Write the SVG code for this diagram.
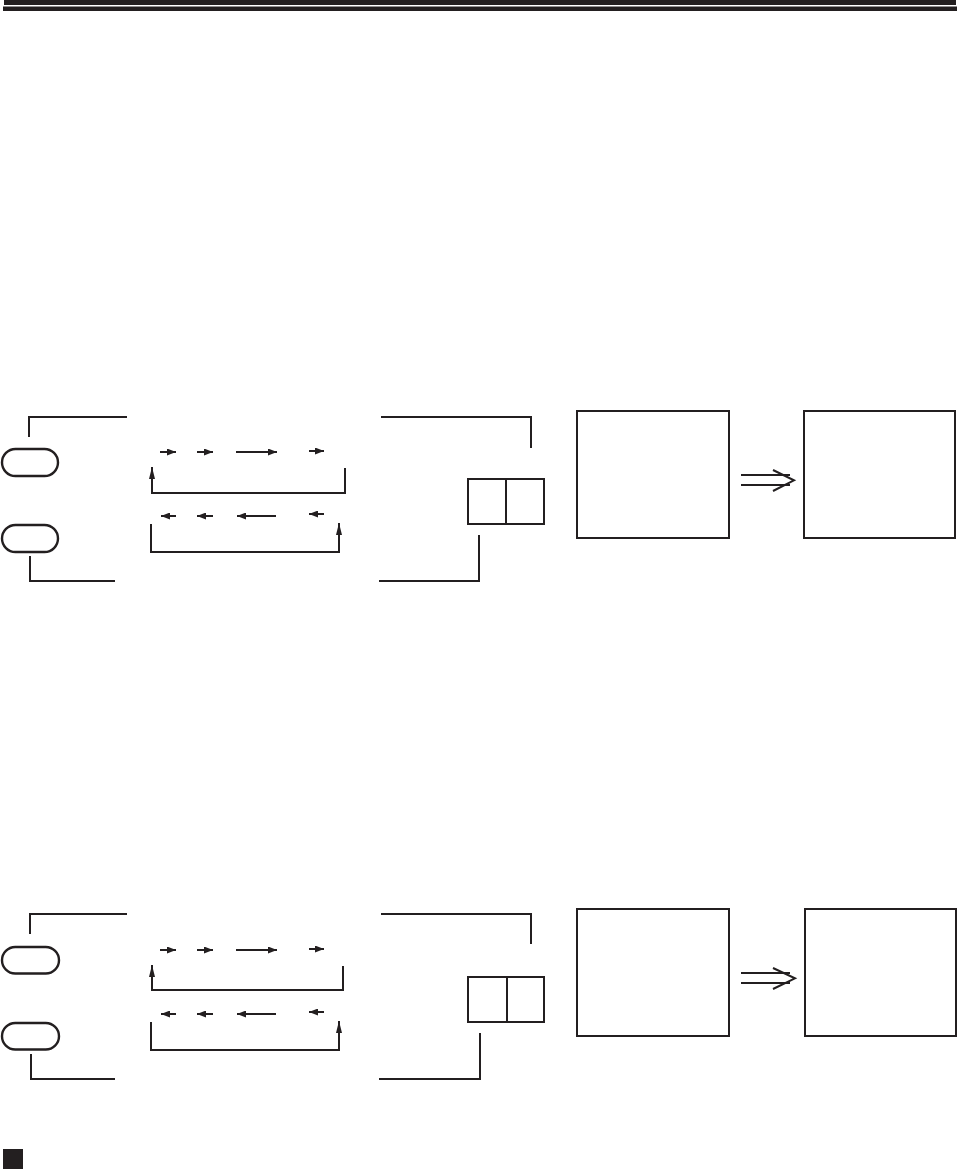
<svg xmlns="http://www.w3.org/2000/svg" width="957" height="1169" viewBox="0 0 957 1169">
<style>
.ln{fill:none;stroke:#231f20;stroke-width:2}
.bx{fill:#fff;stroke:#231f20;stroke-width:2}
.ov{fill:#fff;stroke:#231f20;stroke-width:2.4}
.ar{fill:none;stroke:#231f20;stroke-width:2;marker-end:url(#ah)}
.av{fill:none;stroke:#231f20;stroke-width:2;marker-end:url(#av)}
.fl{fill:#231f20}
</style>
<defs>
<marker id="ah" viewBox="0 0 9 7" refX="9" refY="3.5" markerWidth="9" markerHeight="7" markerUnits="userSpaceOnUse" orient="auto">
<path d="M0,0 L9,3.5 L0,7 z" fill="#231f20"/>
</marker>
<marker id="av" viewBox="0 0 12 6" refX="12" refY="3" markerWidth="12" markerHeight="6" markerUnits="userSpaceOnUse" orient="auto">
<path d="M0,0 L12,3 L0,6 z" fill="#231f20"/>
</marker>
</defs>
<rect class="fl" x="4" y="0" width="952" height="5"/>
<rect class="fl" x="3" y="6.5" width="954" height="4.5"/>

<g id="panel1-nodes">
<g id="p1-btn-up"><rect class="ov" x="2" y="449" width="56" height="27" rx="13.5"/></g>
<g id="p1-btn-down"><rect class="ov" x="2" y="525" width="56" height="27" rx="13.5"/></g>
<g id="p1-split"><rect class="bx" x="468" y="479" width="76" height="45"/><line class="ln" x1="506" y1="479" x2="506" y2="524"/></g>
<g id="p1-screen-a"><rect class="bx" x="577" y="411" width="152" height="127"/></g>
<g id="p1-screen-b"><rect class="bx" x="804" y="411" width="151" height="127"/></g>
</g>

<g id="panel2-nodes">
<g id="p2-btn-up"><rect class="ov" x="2" y="947" width="57" height="26.5" rx="13.25"/></g>
<g id="p2-btn-down"><rect class="ov" x="2" y="1023" width="57" height="26.5" rx="13.25"/></g>
<g id="p2-split"><rect class="bx" x="468" y="977" width="76" height="45"/><line class="ln" x1="507" y1="977" x2="507" y2="1022"/></g>
<g id="p2-screen-a"><rect class="bx" x="577" y="909" width="152" height="127"/></g>
<g id="p2-screen-b"><rect class="bx" x="805" y="909" width="151" height="127"/></g>
</g>

<g id="connectors">
<!-- panel 1 -->
<polyline class="ln" points="29,437 29,417 127,417"/>
<polyline class="ln" points="30,556 30,581 115,581"/>
<polyline class="ln" points="381,417 531,417 531,448"/>
<polyline class="ln" points="479,535 479,581 379,581"/>
<line class="ar" x1="160" y1="452" x2="176" y2="452"/>
<line class="ar" x1="197" y1="452" x2="213" y2="452"/>
<line class="ar" x1="236" y1="452" x2="277" y2="452"/>
<line class="ar" x1="309" y1="451" x2="324" y2="451"/>
<polyline class="av" points="345,468 345,493 152,493 152,467"/>
<line class="ar" x1="176" y1="516" x2="161" y2="516"/>
<line class="ar" x1="213" y1="516" x2="197" y2="516"/>
<line class="ar" x1="276" y1="516" x2="237" y2="516"/>
<line class="ar" x1="324" y1="514" x2="309" y2="514"/>
<polyline class="av" points="151,524 151,552 339,552 339,523"/>
<line class="ln" x1="741" y1="475" x2="790" y2="475"/>
<line class="ln" x1="741" y1="485" x2="790" y2="485"/>
<polyline class="ln" points="773,470 794,480.3 773,491"/>
<!-- panel 2 -->
<polyline class="ln" points="30,934 30,914 127,914"/>
<polyline class="ln" points="31,1054 31,1079 115,1079"/>
<polyline class="ln" points="381,914 531,914 531,944"/>
<polyline class="ln" points="480,1033 480,1079 379,1079"/>
<line class="ar" x1="160" y1="950" x2="176" y2="950"/>
<line class="ar" x1="197" y1="950" x2="213" y2="950"/>
<line class="ar" x1="236" y1="950" x2="277" y2="950"/>
<line class="ar" x1="309" y1="949" x2="324" y2="949"/>
<polyline class="av" points="343,966 343,990 152,990 152,965"/>
<line class="ar" x1="176" y1="1014" x2="161" y2="1014"/>
<line class="ar" x1="213" y1="1014" x2="197" y2="1014"/>
<line class="ar" x1="276" y1="1014" x2="237" y2="1014"/>
<line class="ar" x1="324" y1="1012" x2="309" y2="1012"/>
<polyline class="av" points="151,1022 151,1050 339,1050 339,1021"/>
<line class="ln" x1="741" y1="973" x2="790" y2="973"/>
<line class="ln" x1="741" y1="983" x2="790" y2="983"/>
<polyline class="ln" points="773,968 795,978.3 773,989"/>
</g>

<rect class="fl" x="3" y="1149" width="20" height="20"/>
</svg>
